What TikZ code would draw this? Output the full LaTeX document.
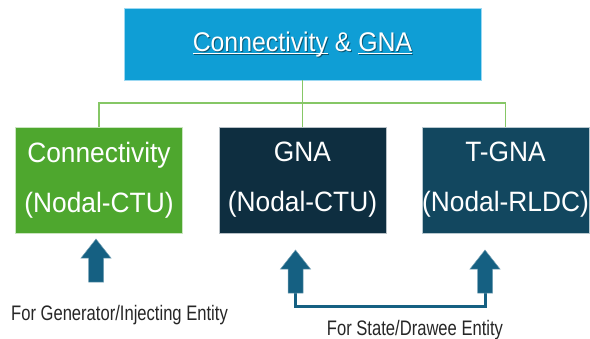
\documentclass[tikz,border=0pt]{standalone}
\usepackage{fontspec}
\setmainfont{Liberation Sans}
\newfontfamily\titlefont[FakeStretch=0.92]{Liberation Sans}
\newfontfamily\boxfont[FakeStretch=0.94]{Liberation Sans}
\newfontfamily\notefont[FakeStretch=0.79]{Liberation Sans}

\definecolor{headblue}{HTML}{0F9ED5}
\definecolor{headedge}{HTML}{9BD8F2}
\definecolor{connGreen}{HTML}{4EA72E}
\definecolor{gnaNavy}{HTML}{0E2E40}
\definecolor{tgnaBlue}{HTML}{12475F}
\definecolor{treeGreen}{HTML}{86C766}
\definecolor{arrowBlue}{HTML}{156082}
\definecolor{noteGray}{HTML}{262626}

% underline that sits just under the baseline, like an office-style underline
\newcommand\ulword[1]{\setbox0\hbox{#1}\rlap{\rule[-2.4pt]{\wd0}{1.2pt}}\box0\relax}

\tikzset{
  headbox/.style={fill=headblue, draw=headedge, line width=0.8pt,
    minimum width=357pt, minimum height=72pt, inner sep=0pt},
  catbox/.style={draw=white!70!#1, fill=#1, line width=0.8pt, text=white,
    minimum width=167pt, minimum height=106pt, inner sep=0pt, align=center,
    font=\boxfont\fontsize{28}{50}\selectfont},
  tree/.style={draw=treeGreen, line width=1.5pt},
  link/.style={draw=arrowBlue, line width=3pt},
  note/.style={text=noteGray, inner sep=0pt, anchor=base,
    font=\notefont\fontsize{21}{24}\selectfont},
  uparrow/.pic={
    \fill[arrowBlue, draw=arrowBlue!60!white, line width=0.5pt]
      (-7.5,0) -- (-7.5,-24) -- (-15,-24) -- (0,-43) -- (15,-24)
      -- (7.5,-24) -- (7.5,0) -- cycle;}
}

\begin{document}
\begin{tikzpicture}[x=1pt, y=-1pt]
  \useasboundingbox (0,0) rectangle (590,338);

  % heading box
  \node[headbox] (top) at (302.5,44) {};
  \node[text=black, opacity=0.45, font=\titlefont\fontsize{27}{30}\selectfont,
        inner sep=0pt, anchor=base] (titleshadow) at (303.5,52.7)
        {\ulword{Connectivity} \& \ulword{GNA}};
  \node[text=white, font=\titlefont\fontsize{27}{30}\selectfont,
        inner sep=0pt, anchor=base] (title) at (302.5,51.7)
        {\ulword{Connectivity} \& \ulword{GNA}};

  % the three categories
  \node[catbox=connGreen] (c1) at (99,180) {Connectivity\\(Nodal-CTU)};
  \node[catbox=gnaNavy]   (c2) at (302.5,180) {GNA\\(Nodal-CTU)};
  \node[catbox=tgnaBlue]  (c3) at (505.5,180) {T-GNA\\(Nodal-RLDC)};

  % tree connectors
  \coordinate (hub) at (302.5,103);
  \draw[tree] (top.south) -- (hub);
  \draw[tree] (c1.north) |- (hub) -| (c3.north);
  \draw[tree] (hub) -- (c2.north);

  % block arrows pointing up at the boxes
  \coordinate (t1) at (96,282);
  \coordinate (t2) at (295.5,293);
  \coordinate (t3) at (485,293);
  \coordinate (bend) at (295.5,306);
  \draw[link] (t2) -- (bend) -| (t3);
  \pic at (t1) {uparrow};
  \pic at (t2) {uparrow};
  \pic at (t3) {uparrow};

  % notes
  \node[note] (n1) at (119.5,320) {For Generator/Injecting Entity};
  \node[note] (n2) at (415,335) {For State/Drawee Entity};
\end{tikzpicture}
\end{document}
